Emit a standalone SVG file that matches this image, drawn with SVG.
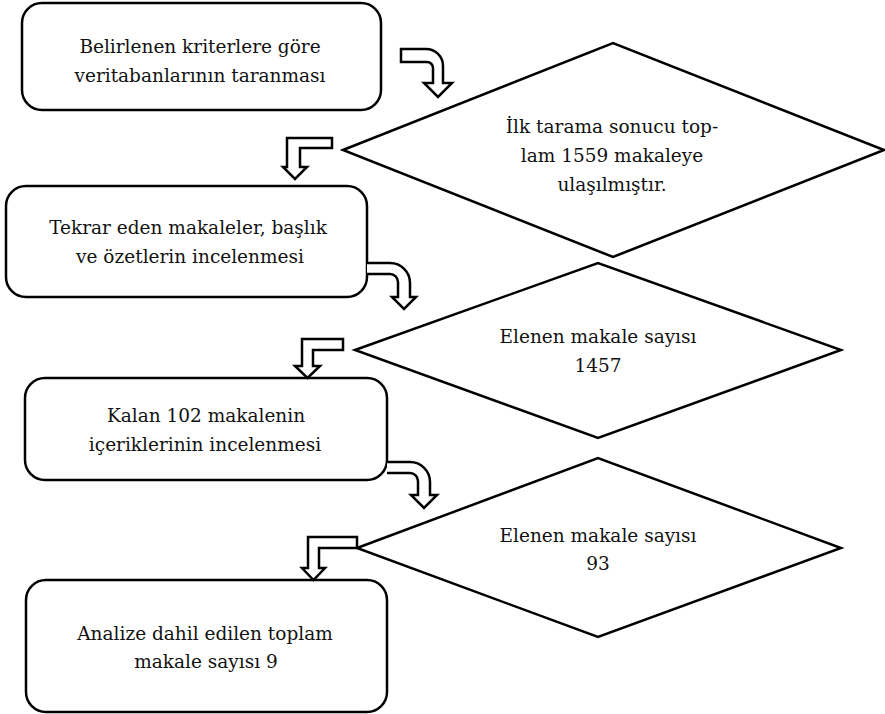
<svg xmlns="http://www.w3.org/2000/svg" width="885" height="714" viewBox="0 0 885 714">
<style>
.box{fill:#fff;stroke:#000;stroke-width:2.5}
.dia{fill:#fff;stroke:#000;stroke-width:2.5;stroke-linejoin:miter}
.arr{fill:#fff;stroke:#000;stroke-width:2.5;stroke-linejoin:miter}
text{font-family:"DejaVu Serif","Liberation Serif",serif;font-size:18.5px;fill:#111;text-anchor:middle}
</style>
<rect width="885" height="714" fill="#fff"/>
<g id="node-box1">
<rect class="box" x="22" y="3" width="359" height="107" rx="20"/>
<text x="200" y="53">Belirlenen kriterlere göre</text>
<text x="200" y="82">veritabanlarının taranması</text>
</g>
<g id="node-dia1">
<polygon class="dia" points="343,150 613,43 884,150 613,257"/>
<text x="612" y="133">İlk tarama sonucu top-</text>
<text x="612" y="162">lam 1559 makaleye</text>
<text x="612" y="191">ulaşılmıştır.</text>
</g>
<g id="node-box2">
<rect class="box" x="6" y="186" width="361" height="111" rx="20"/>
<text x="188" y="234">Tekrar eden makaleler, başlık</text>
<text x="190" y="263">ve özetlerin incelenmesi</text>
</g>
<g id="node-dia2">
<polygon class="dia" points="355,350 598,263 841,350 598,438"/>
<text x="598" y="343">Elenen makale sayısı</text>
<text x="598" y="372">1457</text>
</g>
<g id="node-box3">
<rect class="box" x="25" y="378" width="362" height="102" rx="20"/>
<text x="206" y="422">Kalan 102 makalenin</text>
<text x="205" y="451">içeriklerinin incelenmesi</text>
</g>
<g id="node-dia3">
<polygon class="dia" points="357,548 598,458 841,548 598,637"/>
<text x="598" y="542">Elenen makale sayısı</text>
<text x="598" y="570">93</text>
</g>
<g id="node-box4">
<rect class="box" x="26" y="580" width="361" height="132" rx="20"/>
<text x="205" y="640">Analize dahil edilen toplam</text>
<text x="206" y="668">makale sayısı 9</text>
</g>
<g id="connectors">
<path class="arr" d="M401,49 H426 A17,17 0 0 1 443,66 V83 H452 L438,97 L424,83 H433 V68 A6,6 0 0 0 427,62 H401 Z"/>
<path class="arr" d="M332,138 H287 V167 H283 L295,179 L307,167 H300 V148 H332 Z"/>
<path class="arr" d="M367,263 H390 A20,20 0 0 1 410,283 V297 H416 L404,309 L392,297 H398 V282 A8,8 0 0 0 390,274 H367"/>
<path class="arr" d="M343,339 H302 V366 H295 L307.5,378 L320,366 H313 V350 H343 Z"/>
<path class="arr" d="M387,462 H410 A20,20 0 0 1 430,482 V495 H437 L424,508 L411,495 H418 V481 A8,8 0 0 0 410,473 H387"/>
<path class="arr" d="M357,537 H308 V568 H302 L313.5,580 L325,568 H319 V548 H357 Z"/>
</g>
</svg>
